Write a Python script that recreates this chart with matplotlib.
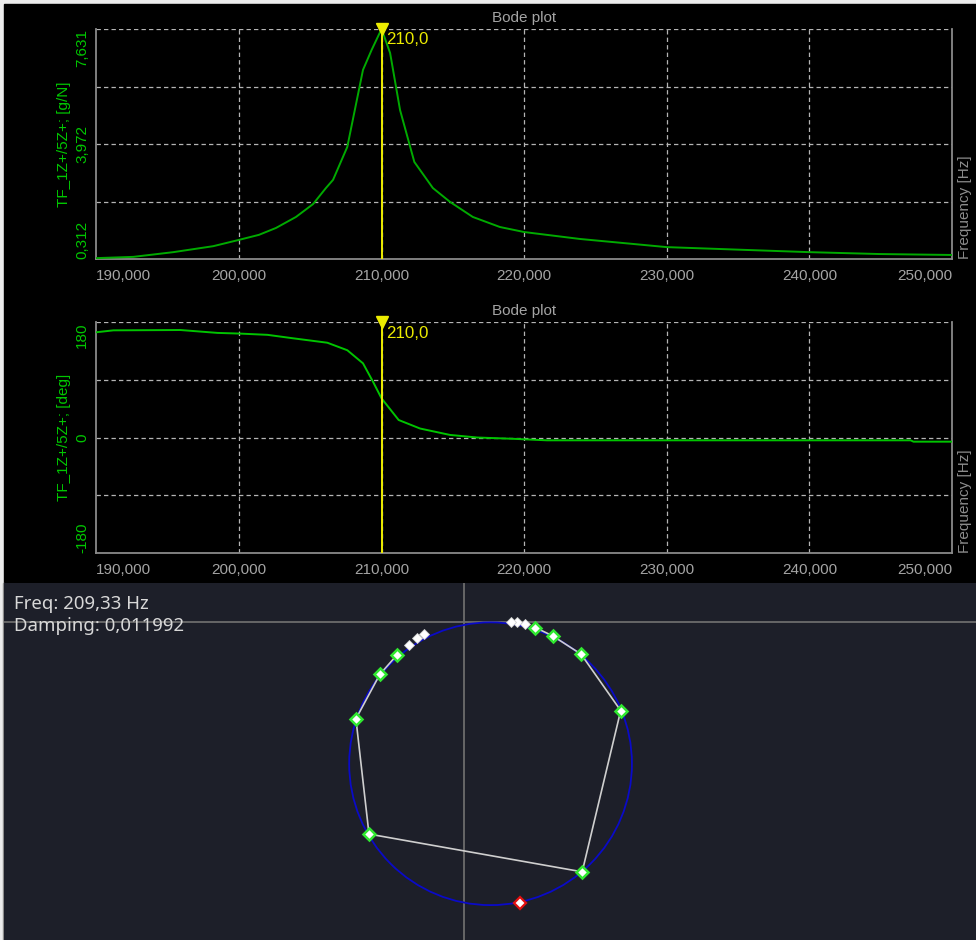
import numpy as np
import matplotlib
matplotlib.use("Agg")
import matplotlib.pyplot as plt
from matplotlib.patches import Rectangle, Circle

# ---- data -------------------------------------------------------------
freq_mag = [190.0, 192.6, 195.4, 198.2, 200.0, 201.4, 202.6, 204.0, 205.2, 206.1,
            206.6, 207.6, 208.7, 209.3, 210.0, 210.6, 211.3, 212.3, 213.6, 214.8,
            216.4, 218.3, 220.0, 223.9, 230.0, 235.6, 240.0, 244.9, 250.0]
magnitude = [0.34, 0.38, 0.53, 0.72, 0.92, 1.08, 1.30, 1.65, 2.06, 2.57,
             2.83, 3.88, 6.33, 6.96, 7.631, 6.87, 5.05, 3.40, 2.57, 2.13,
             1.65, 1.33, 1.17, 0.95, 0.69, 0.60, 0.53, 0.47, 0.44]

freq_ph = [190.0, 191.2, 195.9, 198.5, 200.0, 202.0, 203.8, 206.2, 207.6, 208.7,
           209.4, 210.0, 211.2, 212.7, 214.8, 216.7, 219.2, 221.6, 247.1, 247.3, 250.0]
phase = [164.0, 167.0, 167.5, 163.0, 162.0, 160.0, 154.6, 147.7, 136.0, 115.6,
         87.0, 61.0, 27.3, 14.0, 4.0, 0.0, -2.0, -4.4, -4.4, -6.5, -6.5]

mag_ticks = [0.312, 3.972, 7.631]
mag_tick_labels = ["0,312", "3,972", "7,631"]
phase_ticks = [-180, 0, 180]
phase_tick_labels = ["-180", "0", "180"]
freq_ticks = [190, 200, 210, 220, 230, 240, 250]
freq_tick_labels = ["190,000", "200,000", "210,000", "220,000", "230,000", "240,000", "250,000"]
cursor_freq = 210.0
cursor_label = "210,0"

# Nyquist points (real, imaginary) in g/N
fit_re = [-1.80, -2.25, -2.89, -2.54, 3.16, 4.19, 3.13, 2.37, 1.91]
fit_im = [-0.89, -1.40, -2.59, -5.67, -6.68, -2.37, -0.86, -0.37, -0.15]
out_re = [-1.06, -1.26, -1.48, 1.62, 1.41, 1.25]
out_im = [-0.32, -0.44, -0.62, -0.05, 0.01, 0.01]
peak_re, peak_im = 1.50, -7.51
circle_center = (0.71, -3.79)
circle_radius = 3.78
freq_text = "Freq: 209,33 Hz"
damping_text = "Damping: 0,011992"

# ---- layout helpers -----------------------------------------------------
W, H = 976, 940


def rect(x0, y0, x1, y1):
    """pixel box (top-left origin) -> figure fraction rect"""
    return [x0 / W, (H - y1) / H, (x1 - x0) / W, (y1 - y0) / H]


fig = plt.figure(figsize=(W / 100, H / 100), dpi=100)
fig.patch.set_facecolor("#ececec")
fig.add_artist(Rectangle((4 / W, (H - 583) / H), 972 / W, 579 / H,
                         transform=fig.transFigure, color="black", zorder=-10))
fig.add_artist(Rectangle((3 / W, 0), 1 / W, (H - 583) / H,
                         transform=fig.transFigure, color="#8c8c8c", zorder=-10))

tick_gray = "#a4a4a4"
green_lbl = "#00c800"
yellow = "#ecec00"
bode_font = "Liberation Sans"
fs = 11.0


def style_bode(ax, yticks, ylabels, ylim, ylabel):
    ax.set_facecolor("black")
    ax.set_xlim(190, 250)
    ax.set_ylim(*ylim)
    for side in ("left", "bottom", "right"):
        ax.spines[side].set_color("#8a8a8a")
        ax.spines[side].set_linewidth(1.3)
    ax.spines["top"].set_visible(False)
    # grid: 4 equal intervals vertically, 10 Hz horizontally
    ygrid = np.linspace(ylim[0], ylim[1], 5)
    for yv in ygrid[1:]:
        ax.axhline(yv, color="#b4b4b4", lw=0.9, ls=(0, (3.5, 2.5)), zorder=1)
    for xv in freq_ticks[1:-1]:
        ax.axvline(xv, color="#b4b4b4", lw=0.9, ls=(0, (3.5, 2.5)), zorder=1)
    ax.set_xticks(freq_ticks)
    ax.set_xticklabels(freq_tick_labels, fontsize=fs, family=bode_font, color=tick_gray)
    for i, t in enumerate(ax.get_xticklabels()):
        t.set_ha("left" if i == 0 else ("right" if i == len(freq_ticks) - 1 else "center"))
    ax.set_yticks(yticks)
    ax.set_yticklabels(ylabels, fontsize=fs, family=bode_font, color=green_lbl, rotation=90)
    labs = ax.get_yticklabels()
    labs[0].set_va("bottom")
    labs[1].set_va("center")
    labs[2].set_va("top")
    ax.tick_params(length=0, pad=5)
    ax.tick_params(axis="x", pad=7)
    ax.set_ylabel(ylabel, fontsize=fs, family=bode_font, color=green_lbl, labelpad=3)
    ax.text(1.0 + 13 / 856, 0.0, "Frequency [Hz]", transform=ax.transAxes, rotation=90,
            ha="center", va="bottom", fontsize=fs, family=bode_font, color="#8c8c8c")
    ax.text(0.5, 1.0 + 11 / 230, "Bode plot", transform=ax.transAxes, ha="center",
            va="center", fontsize=fs, family=bode_font, color=tick_gray)
    # cursor
    ax.axvline(cursor_freq, color=yellow, lw=1.4, zorder=4)
    ax.plot([cursor_freq], [ylim[1]], marker="v", ms=8, color=yellow, clip_on=False, zorder=6)
    ax.annotate(cursor_label, xy=(cursor_freq, ylim[1]), xytext=(5, -11),
                textcoords="offset pixels", ha="left", va="center", fontsize=fs + 1.2,
                family=bode_font, color=yellow, annotation_clip=False, zorder=6)


# magnitude
ax1 = fig.add_axes(rect(96.3, 29, 952, 259))
ax1.plot(freq_mag, magnitude, color="#00aa00", lw=1.4, zorder=3)
style_bode(ax1, mag_ticks, mag_tick_labels, (0.312, 7.631), "TF_1Z+/5Z+; [g/N]")

# phase
ax2 = fig.add_axes(rect(96.3, 322, 952, 553))
ax2.plot(freq_ph, phase, color="#00c400", lw=1.4, zorder=3)
style_bode(ax2, phase_ticks, phase_tick_labels, (-180, 180), "TF_1Z+/5Z+; [deg]")

# ---- circle fit (Nyquist) ---------------------------------------------
ax3 = fig.add_axes(rect(4, 583, 976, 940))
ax3.set_facecolor("#1d1f29")
for s in ax3.spines.values():
    s.set_visible(False)
ax3.set_xticks([])
ax3.set_yticks([])
scale = 37.4
ax3.set_xlim((4 - 464) / scale, (976 - 464) / scale)
ax3.set_ylim((622 - 940) / scale, (622 - 583) / scale)

ax3.axhline(0, color="#6c6c6c", lw=1.3, zorder=1)
ax3.axvline(0, color="#6c6c6c", lw=1.3, zorder=1)
ax3.add_patch(Circle(circle_center, circle_radius, fill=False, ec="#0a0ac8", lw=1.3, zorder=2))
ax3.plot(fit_re, fit_im, color="#cfcfcf", lw=1.2, zorder=3)
ax3.plot(fit_re, fit_im, ls="none", marker="D", ms=6.5, mfc="white", mec="#30e830",
         mew=1.8, zorder=5)
ax3.plot(out_re, out_im, ls="none", marker="D", ms=5.5, mfc="white", mec="#d0d0d0",
         mew=0.6, zorder=5)
ax3.plot([peak_re], [peak_im], ls="none", marker="D", ms=6, mfc="white", mec="#e01010",
         mew=1.6, zorder=5)

fig.text(14 / W, (H - 604) / H, freq_text, ha="left", va="center", fontsize=13.4,
         family="Noto Sans", color="#d8d8d8")
fig.text(14 / W, (H - 626) / H, damping_text, ha="left", va="center", fontsize=13.4,
         family="Noto Sans", color="#d8d8d8")

fig.savefig("out.png", dpi=100, facecolor=fig.get_facecolor())
